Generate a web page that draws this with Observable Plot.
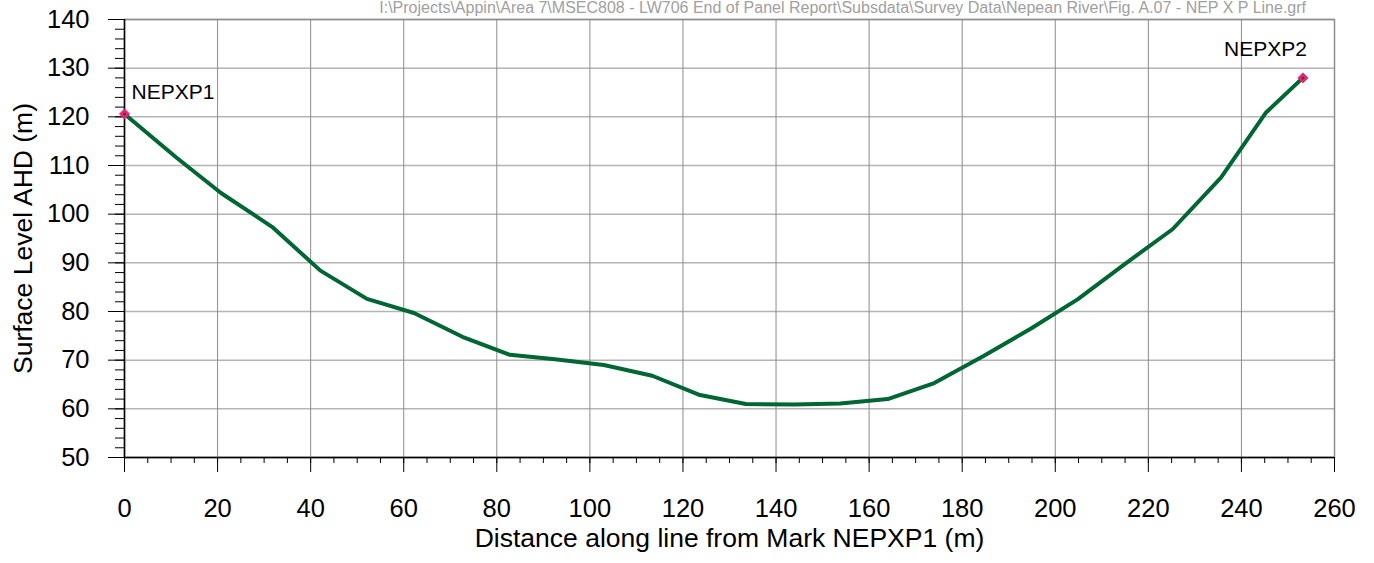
<!DOCTYPE html>
<html>
<head>
<meta charset="utf-8">
<script src="https://cdn.jsdelivr.net/npm/d3@7"></script>
<script src="https://cdn.jsdelivr.net/npm/@observablehq/plot@0.6"></script>
<style>
  html, body { margin: 0; padding: 0; background: #fff; }
  #wrap { position: relative; width: 1374px; height: 563px; overflow: hidden; font-family: "Liberation Sans", Arial, sans-serif; }
  #path { position: absolute; right: 68px; top: 0px; font-size: 16px; line-height: 16px; color: #a0a0a0; white-space: nowrap; z-index: 2; }
</style>
</head>
<body>
<div id="wrap">
  <div id="path">I:\Projects\Appin\Area 7\MSEC808 - LW706 End of Panel Report\Subsdata\Survey Data\Nepean River\Fig. A.07 - NEP X P Line.grf</div>
</div>
<script>
// Distance along line (m)
const distance = [0, 11.2, 20.8, 31.7, 42.1, 52.1, 62.2, 72.6, 82.8, 92.5, 103, 113.4, 123.4, 133.5, 143.8, 153.8, 164, 174, 184.5, 194.8, 204.8, 215, 225.2, 235.6, 245.3, 253.2];
// Surface level AHD (m)
const level = [120.6, 111.6, 104.3, 97.4, 88.4, 82.6, 79.7, 74.8, 71.1, 70.2, 69.0, 66.8, 62.9, 61.0, 60.9, 61.1, 62.0, 65.3, 70.8, 76.5, 82.5, 89.8, 96.9, 107.5, 120.9, 128.0];
// Survey marks
const markNames = ["NEPXP1", "NEPXP2"];
const markDistance = [0, 253.2];
const markLevel = [120.6, 128.0];
// Ticks
const xMajor = [0, 20, 40, 60, 80, 100, 120, 140, 160, 180, 200, 220, 240, 260];
const yMajor = [50, 60, 70, 80, 90, 100, 110, 120, 130, 140];
const xMinor = d3.range(0, 261, 5);
const yMinor = d3.range(50, 141, 2);
const xTitle = "Distance along line from Mark NEPXP1 (m)";
const yTitle = "Surface Level AHD (m)";

const profile = distance.map((d, i) => ({x: d, y: level[i]}));
const marks = markNames.map((n, i) => ({name: n, x: markDistance[i], y: markLevel[i]}));

const chart = Plot.plot({
  width: 1374,
  height: 563,
  marginLeft: 124,
  marginRight: 40,
  marginTop: 19,
  marginBottom: 106,
  style: {fontFamily: '"Liberation Sans", Arial, sans-serif', fontSize: "25.5px", color: "#000", background: "transparent"},
  x: {domain: [0, 260]},
  y: {domain: [50, 140]},
  marks: [
    Plot.gridY(yMajor, {stroke: "#b4b4b4", strokeOpacity: 1, strokeWidth: 1.5}),
    Plot.gridX(xMajor, {stroke: "#8c8c8c", strokeOpacity: 1, strokeWidth: 1}),
    Plot.frame({stroke: "#8c8c8c", strokeWidth: 1.5}),
    Plot.axisX(xMinor, {tickSize: 6, tickFormat: () => "", label: null, stroke: "#000"}),
    Plot.axisY(yMinor, {tickSize: 9, tickFormat: () => "", label: null, stroke: "#000"}),
    Plot.axisX(xMajor, {tickSize: 15, tickPadding: 26, fontSize: 25.5, label: null, stroke: "#000"}),
    Plot.axisY(yMajor, {tickSize: 16, tickPadding: 19, fontSize: 25.5, label: null, stroke: "#000"}),
    Plot.axisX(xMajor, {tickSize: 0, tickFormat: () => "", fontSize: 26.5, label: xTitle, labelAnchor: "center", labelOffset: 89, labelArrow: "none"}),
    Plot.axisY(yMajor, {tickSize: 0, tickFormat: () => "", fontSize: 26.5, label: yTitle, labelAnchor: "center", labelOffset: 111.5, labelArrow: "none"}),
    Plot.ruleX([0], {stroke: "#000", strokeWidth: 1.5}),
    Plot.ruleY([50], {stroke: "#000", strokeWidth: 1.5}),
    Plot.line(profile, {x: "x", y: "y", stroke: "#006633", strokeWidth: 4, strokeLinejoin: "miter"}),
    Plot.dot(marks, {x: "x", y: "y", symbol: "diamond2", r: 4.5, fill: "#ff1a75", stroke: "#ff1a75", strokeWidth: 1}),
    Plot.dot(marks, {x: "x", y: "y", r: 1.5, fill: "#006633"}),
    Plot.text(marks.slice(0, 1), {x: "x", y: "y", text: "name", dx: 7, dy: -22, textAnchor: "start", fontSize: 21, fill: "#000"}),
    Plot.text(marks.slice(1), {x: "x", y: "y", text: "name", dx: 4, dy: -29, textAnchor: "end", fontSize: 21, fill: "#000"})
  ]
});
chart.style.position = "absolute";
chart.style.left = "0";
chart.style.top = "0";
document.getElementById("wrap").appendChild(chart);
</script>
</body>
</html>
